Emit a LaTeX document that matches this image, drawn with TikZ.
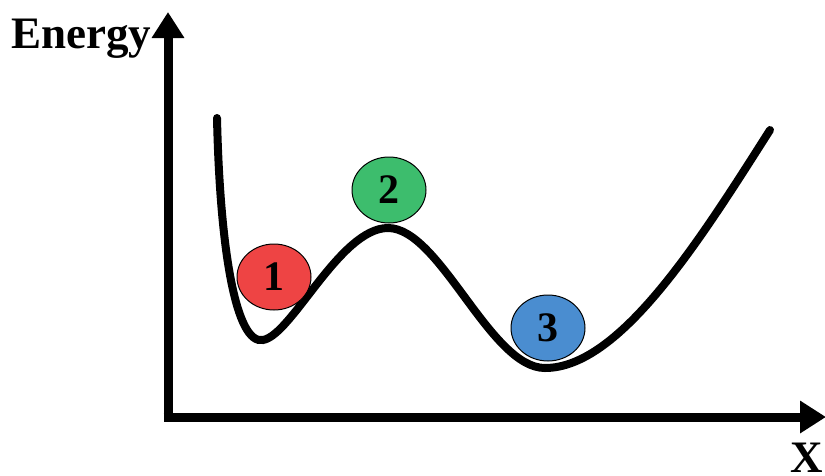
\documentclass[tikz,border=0pt]{standalone}
\usepackage{fontspec}
\setmainfont{Liberation Serif}
\usetikzlibrary{arrows.meta,shapes.geometric}
\definecolor{ballred}{HTML}{EE4444}
\definecolor{ballgreen}{HTML}{3DBD6D}
\definecolor{ballblue}{HTML}{4A8DD0}
\tikzset{
  axis/.style={line width=9pt,-{Triangle[length=26pt,width=31pt]}},
  curve/.style={line width=8pt,line cap=round},
  ball/.style={ellipse,draw=black,line width=1pt,minimum width=74pt,minimum height=66pt,inner sep=0pt,
    font=\fontsize{42}{48}\selectfont\bfseries},
  lbl/.style={inner sep=0pt,font=\fontsize{45}{52}\selectfont\bfseries}
}
\begin{document}
\begin{tikzpicture}[x=1pt,y=-1pt]
\useasboundingbox (0,0) rectangle (825,475);
\coordinate (ytip) at (168,12);
\coordinate (xtip) at (826,417);
\coordinate (ystart) at (168,421.5);
\coordinate (xstart) at (163.5,417);
\draw[axis] (ystart) -- (ytip);
\draw[axis] (xstart) -- (xtip);
\node[lbl,anchor=base west] (elab) at (11,48) {Energy};
\node[lbl,anchor=base east] (xlab) at (823,472) {X};
\draw[curve] (217,118) .. controls (220,250) and (236,345) .. (263,340)
  .. controls (292,335) and (340,228) .. (388,228)
  .. controls (440,228) and (490,368) .. (545,368)
  .. controls (620,368) and (700,240) .. (770,130);
\node[ball,fill=ballred] (b1) at (274,277) {1};
\node[ball,fill=ballgreen] (b2) at (389,190) {2};
\node[ball,fill=ballblue] (b3) at (548,328) {3};
\end{tikzpicture}
\end{document}
